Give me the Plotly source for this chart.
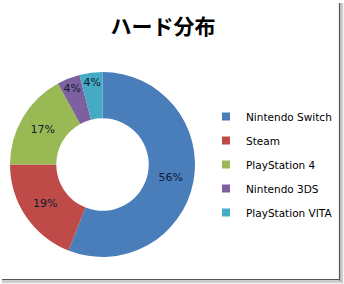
import plotly.graph_objects as go

labels = ["Nintendo Switch", "Steam", "PlayStation 4", "Nintendo 3DS", "PlayStation VITA"]
values = [56, 19, 17, 4, 4]
colors = ["#4A7EBB", "#BE4B48", "#98B954", "#7D60A0", "#46AAC5"]
title_text = "ハード分布"

W, H = 344, 284

fig = go.Figure()
fig.add_trace(go.Pie(
    labels=labels, values=values, sort=False, direction="clockwise", rotation=0,
    hole=0.5, marker=dict(colors=colors, line=dict(width=0)),
    texttemplate="%{percent:.0%}", textposition="inside",
    insidetextorientation="horizontal",
    textfont=dict(family="DejaVu Sans", size=11, color="#101c33"),
    showlegend=False,
    domain=dict(x=[10 / W, 195 / W], y=[(H - 257) / H, (H - 72) / H]),
))
for lab, col in zip(labels, colors):
    fig.add_trace(go.Scatter(
        x=[None], y=[None], mode="markers", name=lab, legendgroup=lab,
        marker=dict(symbol="square", size=8, color=col),
    ))

shapes = []
for px, col, w in [(339.5, "#555555", 1.2), (341, "#9a9a9a", 1.2), (342.5, "#d0d0d0", 1.5)]:
    shapes.append(dict(type="line", xref="paper", yref="paper",
                       x0=px / W, x1=px / W, y0=1 - 3 / H, y1=1 - (px - 59) / H,
                       line=dict(color=col, width=w)))
for py, col, w in [(279.5, "#555555", 1.2), (281, "#9a9a9a", 1.2), (282.5, "#d0d0d0", 1.5)]:
    shapes.append(dict(type="line", xref="paper", yref="paper",
                       x0=2 / W, x1=(py + 60) / W, y0=1 - py / H, y1=1 - py / H,
                       line=dict(color=col, width=w)))

fig.update_layout(
    width=W, height=H,
    margin=dict(l=0, r=0, t=0, b=0),
    paper_bgcolor="white", plot_bgcolor="white",
    title=dict(text="<b>" + title_text + "</b>", x=163 / W, xanchor="center",
               y=1 - 27 / H, yanchor="middle",
               font=dict(family="Noto Sans CJK JP", size=21, color="#000000")),
    xaxis=dict(visible=False), yaxis=dict(visible=False),
    legend=dict(x=206 / W, xanchor="left", y=(H - 164.5) / H, yanchor="middle",
                tracegroupgap=5, itemwidth=30,
                font=dict(family="DejaVu Sans", size=10.5, color="#000000")),
    uniformtext=dict(minsize=11, mode="show"),
    shapes=shapes,
)

fig.write_html("out.html")
